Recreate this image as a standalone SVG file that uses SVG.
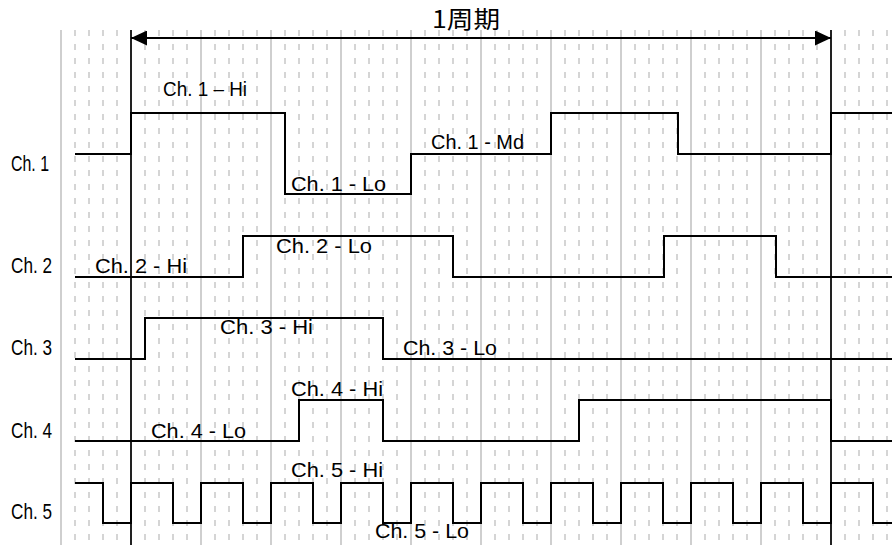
<svg xmlns="http://www.w3.org/2000/svg" width="892" height="545" viewBox="0 0 892 545">
<style>
.dash{stroke:#c8c8c8;stroke-width:1.5;stroke-dasharray:6 8;fill:none}
.grid{stroke:#c0c0c0;stroke-width:1.5;fill:none}
.period{stroke:#222;stroke-width:2;fill:none}
.wave{stroke:#000;stroke-width:2;fill:none;stroke-linejoin:miter}
.lbl{font-family:"Liberation Sans","Noto Sans",sans-serif;font-size:21px;fill:#000}
.side{font-size:22px}
.title{font-family:"Noto Sans CJK JP","Noto Sans",sans-serif;font-size:24px;fill:#000}
</style>
<defs>
<marker id="ah" markerUnits="userSpaceOnUse" markerWidth="16" markerHeight="15" refX="16" refY="7.5" orient="auto-start-reverse">
<path d="M0,0 L16,7.5 L0,15 Z" fill="#000"/>
</marker>
</defs>
<rect width="892" height="545" fill="#fff"/>
<g id="grid">
<path class="dash" d="M75,30V545M89,30V545M103,30V545M117,30V545M145,30V545M159,30V545M173,30V545M187,30V545M215,30V545M229,30V545M243,30V545M257,30V545M285,30V545M299,30V545M313,30V545M327,30V545M355,30V545M369,30V545M383,30V545M397,30V545M425,30V545M439,30V545M453,30V545M467,30V545M495,30V545M509,30V545M523,30V545M537,30V545M565,30V545M579,30V545M593,30V545M607,30V545M635,30V545M649,30V545M663,30V545M677,30V545M705,30V545M719,30V545M733,30V545M747,30V545M775,30V545M789,30V545M803,30V545M817,30V545M845,30V545M859,30V545M873,30V545M887,30V545"/>
<path class="grid" d="M61,30V545M201,30V545M271,30V545M341,30V545M411,30V545M481,30V545M551,30V545M621,30V545M691,30V545M761,30V545"/>
<path class="period" d="M131,30V545M831,30V545"/>
</g>
<g id="period-arrow">
<line x1="131" y1="38" x2="831" y2="38" stroke="#000" stroke-width="2" marker-start="url(#ah)" marker-end="url(#ah)"/>
<text class="title" x="432" y="28" textLength="68" lengthAdjust="spacingAndGlyphs">1周期</text>
</g>
<g id="ch1">
<text class="lbl side" x="11" y="171" textLength="38" lengthAdjust="spacingAndGlyphs">Ch. 1</text>
<path class="wave" d="M75,154H131V113H285V194H411V154H551V113H678V154H831V113H892"/>
<text class="lbl" x="163" y="96" textLength="84" lengthAdjust="spacingAndGlyphs">Ch. 1 – Hi</text>
<text class="lbl" x="291" y="191" textLength="95" lengthAdjust="spacingAndGlyphs">Ch. 1 - Lo</text>
<text class="lbl" x="431" y="149" textLength="93" lengthAdjust="spacingAndGlyphs">Ch. 1 - Md</text>
</g>
<g id="ch2">
<text class="lbl side" x="11" y="273" textLength="41" lengthAdjust="spacingAndGlyphs">Ch. 2</text>
<path class="wave" d="M75,277H243V236H453V277H664V236H776V277H892"/>
<text class="lbl" x="95" y="273" textLength="92" lengthAdjust="spacingAndGlyphs">Ch. 2 - Hi</text>
<text class="lbl" x="276" y="253" textLength="96" lengthAdjust="spacingAndGlyphs">Ch. 2 - Lo</text>
</g>
<g id="ch3">
<text class="lbl side" x="11" y="355" textLength="41" lengthAdjust="spacingAndGlyphs">Ch. 3</text>
<path class="wave" d="M75,359H145V318H383V359H892"/>
<text class="lbl" x="220" y="334" textLength="93" lengthAdjust="spacingAndGlyphs">Ch. 3 - Hi</text>
<text class="lbl" x="403" y="355" textLength="94" lengthAdjust="spacingAndGlyphs">Ch. 3 - Lo</text>
</g>
<g id="ch4">
<text class="lbl side" x="11" y="438" textLength="41" lengthAdjust="spacingAndGlyphs">Ch. 4</text>
<path class="wave" d="M75,441H299V400H383V441H579V400H831V441H892"/>
<text class="lbl" x="151" y="438" textLength="95" lengthAdjust="spacingAndGlyphs">Ch. 4 - Lo</text>
<text class="lbl" x="291" y="396" textLength="92" lengthAdjust="spacingAndGlyphs">Ch. 4 - Hi</text>
</g>
<g id="ch5">
<text class="lbl side" x="11" y="519" textLength="41" lengthAdjust="spacingAndGlyphs">Ch. 5</text>
<path class="wave" d="M75,483H103V523H131V483H173V523H201V483H243V523H271V483H313V523H341V483H383V523H411V483H453V523H481V483H523V523H551V483H593V523H621V483H663V523H691V483H733V523H761V483H803V523H831V483H873V523H892"/>
<text class="lbl" x="291" y="477" textLength="92" lengthAdjust="spacingAndGlyphs">Ch. 5 - Hi</text>
<text class="lbl" x="375" y="538" textLength="94" lengthAdjust="spacingAndGlyphs">Ch. 5 - Lo</text>
</g>
</svg>
